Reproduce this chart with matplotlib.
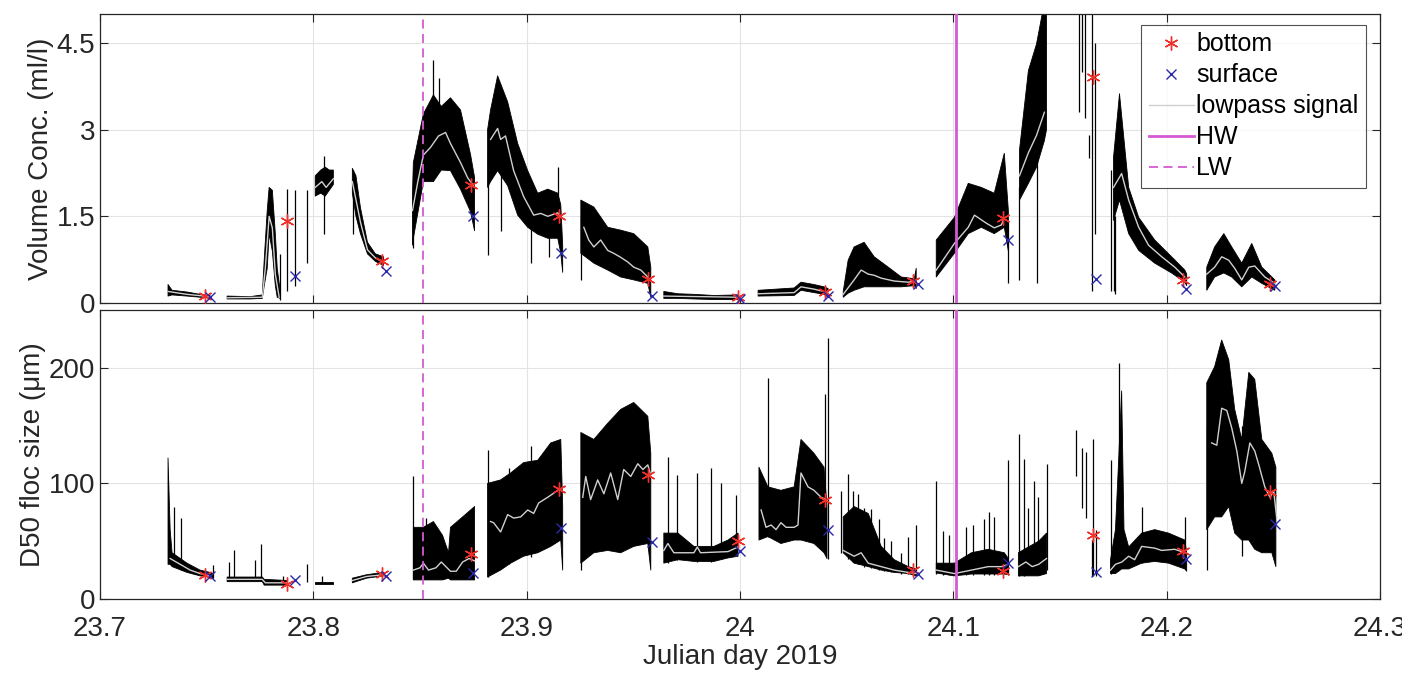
import numpy as np
import matplotlib.pyplot as plt

plt.rcParams['font.family'] = ['Liberation Sans', 'DejaVu Sans']

nan = np.nan

# sampling casts (julian day 2019) and the values at bottom / surface
cast_t_bottom = [23.7493, 23.7878, 23.8320, 23.8740, 23.9150, 23.9570, 23.9990,
                 24.0400, 24.0812, 24.1235, 24.1657, 24.2075, 24.2484]
cast_t_surface = [23.7516, 23.7915, 23.8340, 23.8750, 23.9160, 23.9587, 24.0000,
                  24.0413, 24.0835, 24.1258, 24.1667, 24.2090, 24.2510]
vc_bottom = [0.12, 1.41, 0.72, 2.05, 1.50, 0.41, 0.10, 0.19, 0.38, 1.47, 3.91, 0.40, 0.33]
vc_surface = [0.11, 0.46, 0.55, 1.50, 0.86, 0.12, 0.07, 0.12, 0.33, 1.09, 0.41, 0.24, 0.29]
d50_bottom = [20.8, 13, 21.6, 39, 95, 107, 50, 86, 25, 24, 55, 41.5, 92.6]
d50_surface = [19.5, 16.5, 20, 22.5, 61.5, 49, 41.5, 60, 21.6, 31, 23, 34.6, 65]

hw_t = 24.1014
lw_t = 23.8516

# volume concentration: raw signal band (t, min, max), NaN rows split bursts
vc_band = [
    (23.7319, 0.12, 0.32), (23.7338, 0.14, 0.22), (23.7408, 0.12, 0.19),
    (23.7469, 0.10, 0.15), (23.7516, 0.09, 0.13), (nan, nan, nan),
    (23.7596, 0.07, 0.12), (23.7704, 0.07, 0.11), (23.7761, 0.08, 0.14),
    (23.7770, 0.30, 0.75), (23.7784, 0.60, 1.60), (23.7793, 1.20, 2.00),
    (23.7808, 0.90, 1.95), (23.7822, 0.30, 1.20), (23.7831, 0.10, 0.60),
    (23.7845, 0.08, 0.20), (nan, nan, nan),
    (23.8009, 1.85, 2.20), (23.8035, 1.90, 2.30), (23.8056, 1.85, 2.35),
    (23.8075, 1.95, 2.30), (23.8094, 2.05, 2.30), (nan, nan, nan),
    (23.8183, 1.90, 2.33), (23.8200, 1.50, 2.20), (23.8221, 1.20, 1.65),
    (23.8254, 0.85, 1.05), (23.8291, 0.72, 0.85), (23.8329, 0.65, 0.80), (nan, nan, nan),
    (23.8465, 1.00, 1.90), (23.8469, 1.12, 2.43), (23.8516, 2.10, 3.27),
    (23.8549, 2.10, 3.50), (23.8563, 2.10, 3.60), (23.8600, 2.30, 3.40),
    (23.8643, 2.29, 3.55), (23.8690, 1.97, 3.34), (23.8737, 1.58, 2.57),
    (23.8756, 1.25, 2.17), (nan, nan, nan),
    (23.8817, 2.00, 3.00), (23.8831, 2.10, 3.34), (23.8864, 2.29, 3.93),
    (23.8911, 2.03, 3.48), (23.8958, 1.52, 2.76), (23.9005, 1.31, 2.29),
    (23.9052, 1.19, 1.90), (23.9099, 1.12, 1.97), (23.9146, 1.12, 1.90),
    (23.9160, 0.86, 1.70), (23.9169, 0.53, 1.00), (nan, nan, nan),
    (23.9254, 0.86, 1.78), (23.9315, 0.69, 1.66), (23.9380, 0.57, 1.31),
    (23.9441, 0.45, 1.26), (23.9502, 0.40, 1.20), (23.9568, 0.34, 0.97),
    (23.9582, 0.10, 0.62), (nan, nan, nan),
    (23.9643, 0.08, 0.20), (23.9709, 0.08, 0.16), (23.9784, 0.07, 0.15),
    (23.9878, 0.06, 0.13), (23.9991, 0.06, 0.14), (nan, nan, nan),
    (24.0085, 0.12, 0.22), (24.0254, 0.13, 0.26), (24.0286, 0.22, 0.36),
    (24.0347, 0.18, 0.32), (24.0394, 0.15, 0.28), (24.0413, 0.10, 0.25), (nan, nan, nan),
    (24.0484, 0.10, 0.20), (24.0507, 0.17, 0.74), (24.0535, 0.22, 0.97),
    (24.0582, 0.28, 1.05), (24.0629, 0.28, 0.80), (24.0695, 0.28, 0.62),
    (24.0756, 0.28, 0.45), (24.0817, 0.30, 0.42), (24.0826, 0.25, 0.60), (nan, nan, nan),
    (24.0920, 0.45, 1.09), (24.1005, 0.86, 1.48), (24.1070, 1.20, 2.07),
    (24.1131, 1.31, 2.00), (24.1192, 1.20, 1.90), (24.1239, 1.31, 2.59),
    (24.1258, 0.90, 1.60), (nan, nan, nan),
    (24.1310, 1.78, 2.64), (24.1352, 2.07, 4.02), (24.1390, 2.35, 4.48),
    (24.1427, 2.81, 5.20), (24.1437, 3.00, 5.20), (nan, nan, nan),
    (24.1751, 1.43, 2.52), (24.1779, 1.78, 3.62), (24.1822, 1.20, 2.00),
    (24.1869, 0.91, 1.48), (24.1944, 0.69, 1.09), (24.2023, 0.52, 0.80),
    (24.2085, 0.36, 0.57), (24.2094, 0.30, 0.50), (nan, nan, nan),
    (24.2188, 0.22, 0.62), (24.2225, 0.45, 0.97), (24.2268, 0.52, 1.20),
    (24.2305, 0.45, 0.97), (24.2352, 0.28, 0.69), (24.2399, 0.45, 1.03),
    (24.2446, 0.34, 0.62), (24.2507, 0.22, 0.40),
]

# isolated spikes (t, min, max)
vc_spikes = [
    (23.7845, 0.05, 0.85), (23.7878, 0.20, 1.97), (23.7915, 0.30, 1.95),
    (23.7972, 0.70, 1.95), (23.8050, 1.20, 2.55), (23.8188, 1.20, 2.30),
    (23.8469, 0.95, 1.90), (23.8563, 2.50, 4.20), (23.8587, 2.40, 3.90),
    (23.8817, 0.83, 2.60), (23.8878, 1.24, 3.00), (23.9019, 0.69, 1.90),
    (23.9103, 0.80, 1.80), (23.9146, 1.50, 2.36), (23.9254, 0.40, 1.50),
    (24.1258, 0.34, 1.40), (24.1310, 0.40, 2.00), (24.1390, 0.35, 2.50),
    (24.1587, 3.30, 5.30), (24.1601, 4.00, 5.30), (24.1615, 3.20, 5.30),
    (24.1638, 2.50, 2.90), (24.1652, 0.20, 5.30), (24.1662, 1.20, 4.50),
    (24.1737, 0.20, 2.30), (24.1760, 0.15, 1.50), (24.1751, 0.20, 2.00),
]

vc_lp = [
    (23.7319, 0.20), (23.7408, 0.15), (23.7516, 0.11), (nan, nan),
    (23.7596, 0.09), (23.7761, 0.10), (23.7775, 0.60), (23.7793, 1.50),
    (23.7808, 1.30), (23.7822, 0.50), (23.7840, 0.10), (nan, nan),
    (23.8009, 2.00), (23.8040, 2.10), (23.8060, 2.00), (23.8094, 2.15), (nan, nan),
    (23.8183, 2.10), (23.8221, 1.40), (23.8254, 0.92), (23.8291, 0.78), (23.8329, 0.70), (nan, nan),
    (23.8465, 1.60), (23.8490, 2.10), (23.8516, 2.56), (23.8549, 2.69), (23.8587, 2.89),
    (23.8620, 2.95), (23.8643, 2.76), (23.8690, 2.43), (23.8723, 2.17), (23.8756, 2.00), (nan, nan),
    (23.8831, 2.83), (23.8864, 3.02), (23.8878, 2.83), (23.8901, 2.89), (23.8939, 2.29),
    (23.8986, 1.84), (23.9033, 1.52), (23.9066, 1.55), (23.9099, 1.50), (23.9146, 1.56),
    (23.9160, 1.50), (nan, nan),
    (23.9268, 1.31), (23.9291, 1.09), (23.9315, 0.97), (23.9347, 1.09), (23.9380, 0.91),
    (23.9408, 0.86), (23.9441, 0.79), (23.9474, 0.71), (23.9502, 0.62), (23.9535, 0.57),
    (23.9568, 0.45), (nan, nan),
    (23.9643, 0.12), (23.9991, 0.10), (nan, nan),
    (24.0085, 0.16), (24.0254, 0.18), (24.0286, 0.28), (24.0347, 0.24), (24.0413, 0.18), (nan, nan),
    (24.0484, 0.15), (24.0535, 0.40), (24.0568, 0.57), (24.0601, 0.50), (24.0629, 0.48),
    (24.0662, 0.43), (24.0723, 0.38), (24.0789, 0.36), (24.0817, 0.38), (nan, nan),
    (24.0920, 0.57), (24.1005, 1.03), (24.1070, 1.31), (24.1099, 1.52), (24.1155, 1.38),
    (24.1192, 1.30), (24.1225, 1.35), (24.1239, 1.47), (nan, nan),
    (24.1310, 2.20), (24.1352, 2.60), (24.1390, 2.90), (24.1427, 3.30), (nan, nan),
    (24.1751, 2.00), (24.1789, 2.24), (24.1822, 1.78), (24.1869, 1.31), (24.1915, 1.00),
    (24.1977, 0.80), (24.2038, 0.62), (24.2085, 0.45), (nan, nan),
    (24.2188, 0.50), (24.2225, 0.62), (24.2258, 0.80), (24.2291, 0.74), (24.2319, 0.60),
    (24.2352, 0.40), (24.2385, 0.62), (24.2413, 0.64), (24.2460, 0.45), (24.2507, 0.34),
]

# D50 floc size
d50_band = [
    (23.7319, 30, 122), (23.7329, 30, 60), (23.7338, 28, 40), (23.7408, 23, 31),
    (23.7469, 20, 25), (23.7516, 19, 23), (23.7531, 18, 22), (nan, nan, nan),
    (23.7596, 15, 19), (23.7761, 15, 19), (23.7770, 12, 17), (23.7878, 12, 16), (nan, nan, nan),
    (23.8009, 13, 15), (23.8094, 13, 15), (nan, nan, nan),
    (23.8183, 14, 18), (23.8250, 18, 21), (23.8329, 20, 23), (nan, nan, nan),
    (23.8469, 16.5, 62), (23.8516, 16.5, 62), (23.8563, 16.5, 67), (23.8606, 16.5, 55),
    (23.8634, 18, 40), (23.8643, 16.5, 62), (23.8700, 16.5, 71), (23.8756, 16.5, 80), (nan, nan, nan),
    (23.8817, 19, 100), (23.8878, 25, 103), (23.8925, 31, 109), (23.8986, 37, 118),
    (23.9052, 40, 120), (23.9113, 45.5, 135), (23.9160, 51, 138), (23.9169, 25, 80), (nan, nan, nan),
    (23.9254, 31, 144), (23.9315, 40, 138), (23.9380, 42, 152), (23.9441, 40, 164),
    (23.9502, 45.5, 170), (23.9568, 48, 158), (23.9582, 25, 126), (nan, nan, nan),
    (23.9643, 31, 57), (23.9709, 34, 57), (23.9784, 32.5, 45.5), (23.9878, 32.5, 45.5),
    (23.9944, 35.5, 51), (23.9991, 37, 57), (nan, nan, nan),
    (24.0089, 51, 114), (24.0131, 54, 97), (24.0192, 48, 94), (24.0254, 51, 97),
    (24.0286, 51, 138), (24.0347, 48, 126), (24.0394, 40, 114), (24.0408, 35, 80), (nan, nan, nan),
    (24.0484, 40, 71), (24.0535, 31, 80), (24.0601, 28, 74), (24.0662, 25, 45.5),
    (24.0723, 23, 34), (24.0789, 22, 28), (24.0826, 20, 26), (nan, nan, nan),
    (24.0920, 22.5, 31), (24.1005, 20, 31), (24.1085, 21.6, 40), (24.1164, 21.6, 43),
    (24.1239, 21.6, 40), (24.1258, 21, 35), (nan, nan, nan),
    (24.1305, 20, 40), (24.1352, 20, 45), (24.1400, 20, 50), (24.1437, 22, 57), (nan, nan, nan),
    (24.1737, 22, 34), (24.1760, 22, 60), (24.1775, 24, 120), (24.1789, 26, 180),
    (24.1800, 26, 60), (24.1822, 26, 45), (24.1883, 31, 57), (24.1944, 32.5, 60),
    (24.2009, 31, 57), (24.2085, 26, 51), (24.2094, 24, 40), (nan, nan, nan),
    (24.2188, 60, 187), (24.2225, 71, 201), (24.2258, 71, 224), (24.2291, 80, 207),
    (24.2319, 57, 164), (24.2352, 51, 138), (24.2385, 51, 196), (24.2413, 43, 190),
    (24.2446, 40, 138), (24.2493, 40, 126), (24.2512, 28, 114),
]

d50_spikes = [
    (23.7348, 30, 80), (23.7380, 25, 70), (23.7530, 18, 29),
    (23.7606, 16, 32), (23.7629, 16, 42), (23.7727, 16, 34), (23.7756, 16, 48),
    (23.7860, 12, 20), (23.7972, 15, 30), (23.8040, 13, 20),
    (23.8469, 17, 106), (23.8530, 17, 70),
    (23.8817, 19, 129), (23.8915, 30, 113), (23.9019, 36, 132), (23.9254, 25, 100),
    (23.9662, 31, 123), (23.9704, 34, 107), (23.9798, 32, 109), (23.9864, 32, 113),
    (23.9911, 35, 100), (23.9981, 37, 90),
    (24.0131, 54, 191), (24.0399, 40, 177), (24.0413, 35, 226),
    (24.0474, 40, 93), (24.0507, 35, 108), (24.0531, 32, 93), (24.0554, 30, 91),
    (24.0582, 28, 79), (24.0615, 27, 78), (24.0653, 25, 69), (24.0676, 24, 53),
    (24.0709, 23, 50), (24.0756, 22, 40), (24.0789, 22, 54), (24.0826, 20, 64),
    (24.0920, 22, 102), (24.0953, 21, 59), (24.0981, 21, 55), (24.1061, 21, 62),
    (24.1094, 21, 64), (24.1146, 21, 69), (24.1169, 21, 75), (24.1192, 21, 71),
    (24.1254, 21, 120),
    (24.1310, 20, 143), (24.1329, 20, 121), (24.1352, 22, 79), (24.1376, 22, 102),
    (24.1399, 22, 88), (24.1437, 25, 117),
    (24.1573, 106, 146), (24.1601, 79, 131), (24.1620, 70, 127), (24.1648, 20, 51),
    (24.1657, 20, 138), (24.1667, 20, 60),
    (24.1737, 22, 120), (24.1775, 30, 204), (24.1883, 31, 80), (24.2085, 26, 71),
    (24.2188, 25, 150), (24.2352, 37, 150),
]

d50_lp = [
    (23.7329, 35), (23.7376, 30), (23.7423, 25), (23.7469, 22), (23.7516, 20), (nan, nan),
    (23.7596, 17), (23.7761, 17), (23.7775, 14), (23.7878, 14), (nan, nan),
    (23.8183, 16), (23.8250, 19.5), (23.8329, 21), (nan, nan),
    (23.8469, 25), (23.8500, 27), (23.8516, 31), (23.8540, 25), (23.8575, 27),
    (23.8600, 32), (23.8643, 24), (23.8670, 24), (23.8700, 32), (23.8730, 35), (23.8756, 33), (nan, nan),
    (23.8831, 67), (23.8845, 66), (23.8878, 58), (23.8911, 73), (23.8939, 70), (23.8972, 71),
    (23.9005, 77), (23.9033, 74), (23.9056, 83), (23.9099, 88), (23.9146, 94), (23.9160, 94), (nan, nan),
    (23.9263, 88), (23.9277, 106), (23.9300, 86), (23.9333, 103), (23.9362, 91), (23.9394, 109),
    (23.9427, 86), (23.9455, 112), (23.9488, 106), (23.9521, 117), (23.9545, 112), (23.9568, 116),
    (23.9582, 107), (nan, nan),
    (23.9643, 42), (23.9662, 48), (23.9690, 40), (23.9784, 40), (23.9800, 45), (23.9815, 40),
    (23.9944, 41), (23.9991, 45), (nan, nan),
    (24.0099, 77), (24.0122, 62), (24.0146, 64), (24.0169, 60), (24.0192, 66), (24.0216, 62),
    (24.0254, 62), (24.0272, 64), (24.0286, 109), (24.0319, 97), (24.0347, 94), (24.0380, 88),
    (24.0404, 86), (nan, nan),
    (24.0484, 42), (24.0535, 37), (24.0568, 40), (24.0601, 31), (24.0662, 28), (24.0723, 25),
    (24.0789, 23), (24.0826, 22), (nan, nan),
    (24.0920, 25), (24.1005, 22), (24.1085, 25), (24.1164, 28), (24.1225, 28), (24.1258, 30), (nan, nan),
    (24.1305, 28), (24.1340, 32), (24.1370, 28), (24.1400, 30), (24.1437, 35), (nan, nan),
    (24.1737, 25), (24.1760, 30), (24.1790, 32), (24.1822, 37), (24.1850, 34), (24.1883, 45.5),
    (24.1944, 44), (24.1977, 42), (24.2038, 43), (24.2085, 40), (nan, nan),
    (24.2211, 135), (24.2235, 133), (24.2258, 165), (24.2282, 163), (24.2305, 148), (24.2329, 128),
    (24.2352, 100), (24.2366, 110), (24.2390, 135), (24.2413, 128), (24.2432, 116), (24.2460, 97),
    (24.2484, 88), (24.2502, 93), (24.2516, 70),
]

xticks = [23.7, 23.8, 23.9, 24.0, 24.1, 24.2, 24.3]
xticklabels = ['23.7', '23.8', '23.9', '24', '24.1', '24.2', '24.3']

axis_col = '#262626'
hw_col = '#d45ad4'
red = '#f0302a'
blue = '#2a2aa8'
lp_col = '#d0d0d0'
asterisk = (6, 2, 0)


def draw_panel(ax, band, spikes, lp, bottom, surface):
    b = np.array(band, dtype=float)
    ax.fill_between(b[:, 0], b[:, 1], b[:, 2], color='k', lw=0.6, zorder=2)
    s = np.array(spikes, dtype=float)
    ax.vlines(s[:, 0], s[:, 1], s[:, 2], color='k', lw=0.9, zorder=2)
    l = np.array(lp, dtype=float)
    ax.plot(l[:, 0], l[:, 1], color=lp_col, lw=1.0, zorder=3, label='lowpass signal')
    ax.axvline(hw_t, color=hw_col, lw=2.0, zorder=4, label='HW')
    ax.axvline(lw_t, color=hw_col, lw=1.3, ls=(0, (5, 3)), zorder=4, label='LW')
    ax.plot(cast_t_bottom, bottom, ls='none', marker=asterisk, ms=10, mew=1.0,
            color=red, zorder=5, label='bottom')
    ax.plot(cast_t_surface, surface, ls='none', marker='x', ms=7, mew=1.0,
            color=blue, zorder=5, label='surface')
    ax.set_xlim(23.7, 24.3)
    ax.set_xticks(xticks)
    ax.grid(True, color='#e3e3e3', lw=0.8, zorder=0)
    ax.set_axisbelow(True)
    ax.tick_params(direction='in', length=6, width=0.8, top=True, right=True,
                   labelsize=20, colors=axis_col)
    for sp in ax.spines.values():
        sp.set_color(axis_col)
        sp.set_linewidth(0.9)


fig = plt.figure(figsize=(14.02, 6.75), dpi=100)
ax1 = fig.add_axes([0.0713, 0.5511, 0.9130, 0.4282])
ax2 = fig.add_axes([0.0713, 0.1126, 0.9130, 0.4282])

draw_panel(ax1, vc_band, vc_spikes, vc_lp, vc_bottom, vc_surface)
draw_panel(ax2, d50_band, d50_spikes, d50_lp, d50_bottom, d50_surface)

ax1.set_ylim(0, 5)
ax1.set_yticks([0, 1.5, 3, 4.5])
ax1.set_yticklabels(['0', '1.5', '3', '4.5'])
ax1.set_xticklabels([])
ax1.set_ylabel('Volume Conc. (ml/l)', fontsize=20, color=axis_col, labelpad=2)

ax2.set_ylim(0, 250)
ax2.set_yticks([0, 100, 200])
ax2.set_xticklabels(xticklabels)
ax2.tick_params(axis='x', pad=12)
ax2.set_ylabel('D50 floc size (\u03bcm)', fontsize=20, color=axis_col, labelpad=2)
ax2.set_xlabel('Julian day 2019', fontsize=20, color=axis_col, labelpad=2)

h, lab = ax1.get_legend_handles_labels()
order = [lab.index(k) for k in ['bottom', 'surface', 'lowpass signal', 'HW', 'LW']]
leg = ax1.legend([h[i] for i in order], [lab[i] for i in order],
                 loc='upper right', bbox_to_anchor=(0.989, 0.962), borderaxespad=0,
                 fontsize=18, frameon=True, fancybox=False, handlelength=1.8,
                 handletextpad=0.1, labelspacing=0.28, borderpad=0.3)
leg.get_frame().set_edgecolor(axis_col)
leg.get_frame().set_linewidth(0.8)

fig.savefig('out.png', dpi=100)
